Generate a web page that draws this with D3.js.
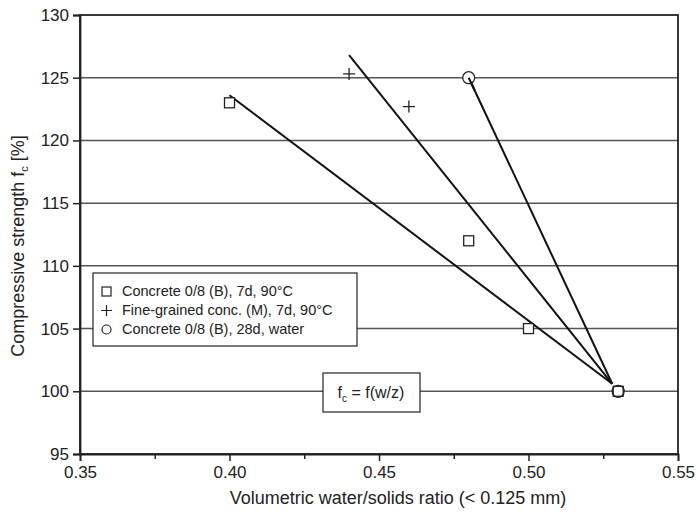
<!DOCTYPE html>
<html>
<head>
<meta charset="utf-8">
<script src="https://cdn.jsdelivr.net/npm/d3@7"></script>
<style>
  body { margin: 0; background: #fff; }
  text { font-family: "Liberation Sans", Arial, sans-serif; fill: #222; }
</style>
</head>
<body>
<script>
// data
const squares = [[0.40, 123], [0.48, 112], [0.50, 105], [0.53, 100]];
const pluses = [[0.44, 125.3], [0.46, 122.7]];
const circles = [[0.48, 125], [0.53, 100]];
const fitLines = [
  [[0.40, 123.6], [0.528, 100.6]],
  [[0.44, 126.8], [0.528, 100.6]],
  [[0.48, 125.0], [0.528, 100.6]]
];
const xTicks = [0.35, 0.40, 0.45, 0.50, 0.55];
const xMinor = [0.375, 0.425, 0.475, 0.525];
const yTicks = [95, 100, 105, 110, 115, 120, 125, 130];
const legendLabels = [
  'Concrete 0/8 (B), 7d, 90°C',
  'Fine-grained conc. (M), 7d, 90°C',
  'Concrete 0/8 (B), 28d, water'
];

const width = 696;
const height = 517;
const margin = { top: 15, right: 18, bottom: 63, left: 80 };

const x = d3.scaleLinear().domain([0.35, 0.55]).range([margin.left, width - margin.right]);
const y = d3.scaleLinear().domain([95, 130]).range([height - margin.bottom, margin.top]);

const svg = d3.select('body').append('svg')
  .attr('width', width)
  .attr('height', height);

// gridlines
svg.append('g')
  .selectAll('line')
  .data(yTicks.filter(d => d > 95 && d < 130))
  .enter().append('line')
    .attr('x1', x(0.35))
    .attr('x2', x(0.55))
    .attr('y1', d => y(d))
    .attr('y2', d => y(d))
    .attr('stroke', '#555')
    .attr('stroke-width', 1.5);

// frame
svg.append('rect')
  .attr('x', x(0.35))
  .attr('y', y(130))
  .attr('width', x(0.55) - x(0.35))
  .attr('height', y(95) - y(130))
  .attr('fill', 'none')
  .attr('stroke', '#222')
  .attr('stroke-width', 1.8);

// axes
svg.append('g')
  .attr('transform', `translate(0,${y(95)})`)
  .call(d3.axisBottom(x).tickValues(xTicks).tickFormat(d3.format('.2f')).tickSize(7).tickPadding(5));
svg.append('g')
  .attr('transform', `translate(0,${y(95)})`)
  .call(d3.axisBottom(x).tickValues(xMinor).tickFormat('').tickSize(5))
  .call(g => g.select('.domain').remove());
svg.append('g')
  .attr('transform', `translate(${x(0.35)},0)`)
  .call(d3.axisLeft(y).tickValues(yTicks).tickSize(7).tickPadding(4));

svg.selectAll('.tick line').attr('stroke', '#222').attr('stroke-width', 1.5);
svg.selectAll('.domain').attr('stroke', '#222').attr('stroke-width', 1.8);
svg.selectAll('.tick text').style('font-size', '17px').attr('fill', '#222');

// axis titles
svg.append('text')
  .attr('x', 398)
  .attr('y', 504)
  .attr('text-anchor', 'middle')
  .style('font-size', '18px')
  .text('Volumetric water/solids ratio (< 0.125 mm)');

const yTitle = svg.append('text')
  .attr('transform', 'translate(24,246) rotate(-90)')
  .attr('text-anchor', 'middle')
  .style('font-size', '18px');
yTitle.append('tspan').text('Compressive strength f');
yTitle.append('tspan').attr('dy', 4).style('font-size', '11px').text('c');
yTitle.append('tspan').attr('dy', -4).text(' [%]');

// fitted lines
const line = d3.line().x(d => x(d[0])).y(d => y(d[1]));
svg.append('g')
  .selectAll('path')
  .data(fitLines)
  .enter().append('path')
    .attr('d', line)
    .attr('fill', 'none')
    .attr('stroke', '#111')
    .attr('stroke-width', 2);

// markers
svg.append('g')
  .selectAll('rect')
  .data(squares)
  .enter().append('rect')
    .attr('x', d => x(d[0]) - 5)
    .attr('y', d => y(d[1]) - 5)
    .attr('width', 10)
    .attr('height', 10)
    .attr('fill', '#fff')
    .attr('stroke', '#222')
    .attr('stroke-width', 1.3);

svg.append('g')
  .selectAll('path')
  .data(pluses)
  .enter().append('path')
    .attr('d', d => `M${x(d[0]) - 6},${y(d[1])}H${x(d[0]) + 6}M${x(d[0])},${y(d[1]) - 6}V${y(d[1]) + 6}`)
    .attr('stroke', '#222')
    .attr('stroke-width', 1.3);

svg.append('g')
  .selectAll('circle')
  .data(circles)
  .enter().append('circle')
    .attr('cx', d => x(d[0]))
    .attr('cy', d => y(d[1]))
    .attr('r', 6)
    .attr('fill', d => d[1] === 100 ? 'none' : '#fff')
    .attr('stroke', '#222')
    .attr('stroke-width', 1.3);

// redraw the start of the circle line over its marker
svg.append('path')
  .attr('d', line([[0.48, 125.0], [0.482, 124.0]]))
  .attr('stroke', '#111')
  .attr('stroke-width', 2);

// legend
const legend = svg.append('g').attr('transform', 'translate(93,273)');
legend.append('rect')
  .attr('width', 264)
  .attr('height', 73)
  .attr('fill', '#fff')
  .attr('stroke', '#222')
  .attr('stroke-width', 1.2);

const rows = legend.selectAll('g')
  .data(legendLabels)
  .enter().append('g')
    .attr('transform', (d, i) => `translate(0,${18 + i * 19})`);

rows.append('text')
  .attr('x', 29)
  .attr('y', 5)
  .style('font-size', '14.5px')
  .text(d => d);

rows.filter((d, i) => i === 0).append('rect')
  .attr('x', 9).attr('y', -4).attr('width', 9).attr('height', 9)
  .attr('fill', 'none').attr('stroke', '#222').attr('stroke-width', 1.2);
rows.filter((d, i) => i === 1).append('path')
  .attr('d', 'M8,0.5H19M13.5,-5V6')
  .attr('stroke', '#222').attr('stroke-width', 1.2);
rows.filter((d, i) => i === 2).append('circle')
  .attr('cx', 13.5).attr('cy', 0.5).attr('r', 4.5)
  .attr('fill', 'none').attr('stroke', '#222').attr('stroke-width', 1.2);

// formula box
const fbox = svg.append('g').attr('transform', 'translate(323,373)');
fbox.append('rect')
  .attr('width', 97)
  .attr('height', 39)
  .attr('fill', '#fff')
  .attr('stroke', '#222')
  .attr('stroke-width', 1.2);
const ft = fbox.append('text')
  .attr('x', 48)
  .attr('y', 25)
  .attr('text-anchor', 'middle')
  .style('font-size', '16px');
ft.append('tspan').text('f');
ft.append('tspan').attr('dy', 4).style('font-size', '10px').text('c');
ft.append('tspan').attr('dy', -4).text(' = f(w/z)');
</script>
</body>
</html>
